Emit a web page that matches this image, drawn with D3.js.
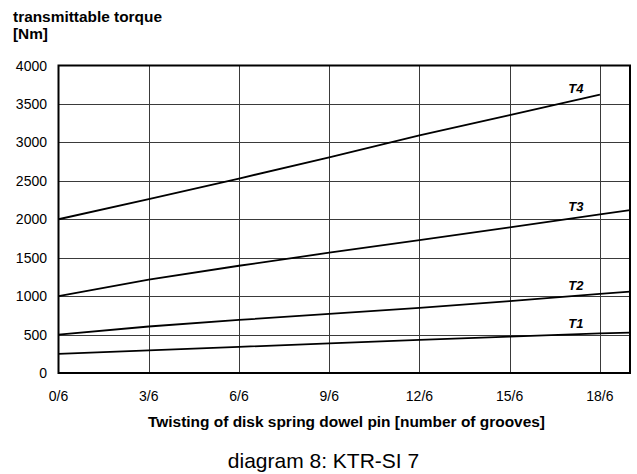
<!DOCTYPE html>
<html>
<head>
<meta charset="utf-8">
<script src="https://cdn.jsdelivr.net/npm/d3@7"></script>
<style>
  body { margin: 0; background: #fff; }
  text { font-family: "Liberation Sans", Arial, sans-serif; fill: #000; }
</style>
</head>
<body>
<svg id="chart" width="637" height="474"></svg>
<script>
// twisting in sixths of a groove
let grooves = [0, 3, 6, 9, 12, 15, 18, 19];
let xTicks = [0, 3, 6, 9, 12, 15, 18];
let yTicks = [0, 500, 1000, 1500, 2000, 2500, 3000, 3500, 4000];

let T1 = [250, 295, 340, 385, 430, 472, 515, 525];
let T2 = [500, 605, 690, 770, 848, 936, 1028, 1058];
let T3 = [1000, 1215, 1395, 1565, 1728, 1894, 2064, 2120];
let T4 = [2000, 2263, 2530, 2805, 3090, 3355, 3620];

let series = [
    {name: "T1", values: T1},
    {name: "T2", values: T2},
    {name: "T3", values: T3},
    {name: "T4", values: T4}
];

let svg = d3.select("#chart");
let pLeft = 58.5, pRight = 630, pTop = 65.5, pBottom = 373;

let x = d3.scaleLinear().domain([0, 19]).range([pLeft, pRight]);
let y = d3.scaleLinear().domain([0, 4000]).range([pBottom, pTop]);

// grid
let grid = svg.append("g");
grid.selectAll(".hgrid")
    .data(yTicks.slice(1, -1))
    .enter().append("line")
    .attr("x1", pLeft).attr("x2", pRight)
    .attr("y1", d => Math.round(y(d)) + 0.5)
    .attr("y2", d => Math.round(y(d)) + 0.5)
    .style("stroke", "#3a3a3a")
    .style("stroke-width", 1);
grid.selectAll(".vgrid")
    .data(xTicks.slice(1))
    .enter().append("line")
    .attr("y1", pTop).attr("y2", pBottom)
    .attr("x1", d => Math.round(x(d)) + 0.5)
    .attr("x2", d => Math.round(x(d)) + 0.5)
    .style("stroke", "#3a3a3a")
    .style("stroke-width", 1);

// curves
let line = d3.line()
    .x((d, i) => x(grooves[i]))
    .y(d => y(d));

svg.append("g").selectAll("path")
    .data(series)
    .enter().append("path")
    .attr("d", d => line(d.values))
    .style("fill", "none")
    .style("stroke", "#000")
    .style("stroke-width", 1.8);

// curve labels
svg.append("g").selectAll("text")
    .data(series)
    .enter().append("text")
    .attr("x", x(17.45))
    .attr("y", d => {
        let f = d3.scaleLinear().domain(grooves.slice(0, d.values.length)).range(d.values);
        return y(f(17.5)) - 5.5;
    })
    .attr("text-anchor", "end")
    .style("font-size", "13px")
    .style("font-weight", "bold")
    .style("font-style", "italic")
    .text(d => d.name);

// frame
svg.append("rect")
    .attr("x", pLeft).attr("y", pTop)
    .attr("width", pRight - pLeft).attr("height", pBottom - pTop)
    .style("fill", "none")
    .style("stroke", "#000")
    .style("stroke-width", 2);

// tick labels
svg.append("g").selectAll("text")
    .data(yTicks)
    .enter().append("text")
    .attr("x", 47)
    .attr("y", d => y(d) + 5)
    .attr("text-anchor", "end")
    .style("font-size", "14px")
    .text(d => d);

svg.append("g").selectAll("text")
    .data(xTicks)
    .enter().append("text")
    .attr("x", d => x(d))
    .attr("y", 401)
    .attr("text-anchor", "middle")
    .style("font-size", "14px")
    .text(d => d + "/6");

// axis titles (reference font runs wider, so stretch to its width)
svg.append("text")
    .attr("x", 13).attr("y", 22)
    .attr("textLength", 149)
    .attr("lengthAdjust", "spacingAndGlyphs")
    .style("font-size", "14px")
    .style("font-weight", "bold")
    .text("transmittable torque");
svg.append("text")
    .attr("x", 13).attr("y", 39)
    .attr("textLength", 35)
    .attr("lengthAdjust", "spacingAndGlyphs")
    .style("font-size", "14px")
    .style("font-weight", "bold")
    .text("[Nm]");

svg.append("text")
    .attr("x", 148).attr("y", 427)
    .attr("textLength", 397)
    .attr("lengthAdjust", "spacingAndGlyphs")
    .style("font-size", "14px")
    .style("font-weight", "bold")
    .text("Twisting of disk spring dowel pin [number of grooves]");

svg.append("text")
    .attr("x", 323.5).attr("y", 468)
    .attr("text-anchor", "middle")
    .style("font-size", "21px")
    .text("diagram 8: KTR-SI 7");
</script>
</body>
</html>
